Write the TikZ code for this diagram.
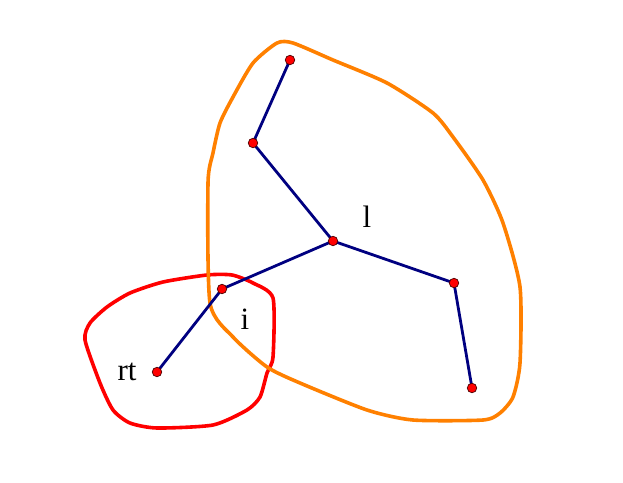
\documentclass[tikz,border=0pt]{standalone}
\usepackage{fontspec}
\setmainfont{Liberation Serif}
\begin{document}
\begin{tikzpicture}[x=1pt,y=-1pt,
  edge/.style={draw={rgb,255:red,0;green,0;blue,128},line width=2.8pt},
  vtx/.style={circle,fill=red,draw=black!70!red,line width=0.7pt,inner sep=0pt,minimum size=9.5pt},
  lbl/.style={font=\fontsize{31}{34}\selectfont},
  hullred/.style={draw=red,line width=3.6pt,line join=round},
  hullorange/.style={draw={rgb,255:red,255;green,128;blue,0},line width=3.6pt,line join=round}]
\useasboundingbox (0,0) rectangle (623,482);
\draw[hullred] plot[smooth cycle,tension=0.4] coordinates {
 (207,275) (232,275) (253,283) (273,298) (273,357) (267,373) (260,397) (247,410)
 (213,425) (157,428) (130,423) (113,410) (100,383) (85,340) (90,323) (107,307)
 (130,293) (163,282)};
\draw[hullorange] plot[smooth cycle,tension=0.4] coordinates {
 (277,43) (293,43) (333,60) (387,83) (433,113) (453,137) (483,180) (503,223)
 (520,287) (520,363) (513,397) (500,413) (483,420) (413,420) (367,410) (300,383)
 (267,367) (233,337) (210,303) (208,183) (213,153) (220,123) (233,97) (253,63)};
\coordinate (pa) at (290,60);
\coordinate (pb) at (253,143);
\coordinate (pc) at (333,241);
\coordinate (pd) at (454,283);
\coordinate (pe) at (472,388);
\coordinate (pf) at (222,289);
\coordinate (pg) at (157,372);
\draw[edge] (pa) -- (pb) -- (pc) -- (pd) -- (pe);
\draw[edge] (pc) -- (pf) -- (pg);
\foreach \p in {pa,pb,pc,pd,pe,pf,pg} \node[vtx] (v\p) at (\p) {};
\node[lbl] (ll) at (367,217) {l};
\node[lbl] (li) at (245,319) {i};
\node[lbl] (lrt) at (127,372) {rt};
\end{tikzpicture}
\end{document}
